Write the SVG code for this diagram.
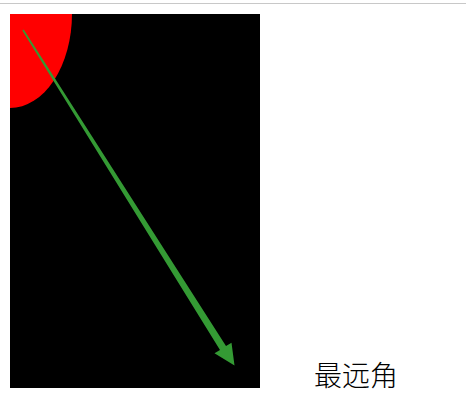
<svg xmlns="http://www.w3.org/2000/svg" width="466" height="403" viewBox="0 0 466 403">
  <style>
    .label { font-family: "Noto Sans CJK SC", "Noto Sans CJK JP", serif; font-size: 28px; font-weight: 300; fill: #000; }
    .arrow { fill: #349a34; }
  </style>
  <defs>
    <clipPath id="canvasClip"><rect x="10" y="14" width="250" height="374"/></clipPath>
  </defs>
  <rect x="0" y="0" width="466" height="403" fill="#ffffff"/>
  <line x1="0" y1="3.5" x2="466" y2="3.5" stroke="#c8c8c8" stroke-width="1"/>
  <g id="canvas">
    <rect x="10" y="14" width="250" height="374" fill="#000000"/>
    <ellipse cx="10" cy="14" rx="62" ry="94" fill="#ff0000" clip-path="url(#canvasClip)"/>
  </g>
  <g id="connectors">
    <polygon class="arrow" points="23.7,29.5 22.3,30.5 220.0,349.9 214.5,353.3 234.5,365.5 231.5,342.7 226.0,346.1"/>
  </g>
  <g id="label">
    <text class="label" x="314" y="386">最远角</text>
  </g>
</svg>
